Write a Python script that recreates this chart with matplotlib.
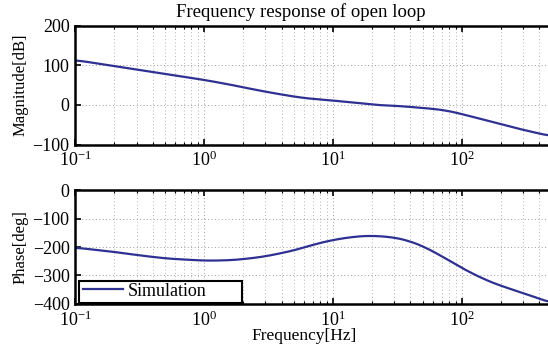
import numpy as np
import matplotlib
matplotlib.use('Agg')
import matplotlib.pyplot as plt
from matplotlib.patches import Rectangle
from matplotlib.ticker import LogLocator, NullFormatter

plt.rcParams['font.family'] = ['Liberation Serif', 'DejaVu Serif']
plt.rcParams['mathtext.fontset'] = 'custom'
plt.rcParams['mathtext.rm'] = 'Liberation Serif'
plt.rcParams['mathtext.it'] = 'Liberation Serif:italic'

# data
freq_mag = [0.1, 0.2, 0.5, 1.0, 1.6, 2.6, 4.0, 6.0, 10.0, 15.0, 23.0, 30.0,
            56.0, 76.0, 100.0, 197.0, 300.0, 464.0, 500.0]
magnitude = [113, 98, 78, 63, 51, 37, 26, 17, 11, 5, -1, -2,
             -9, -14, -23, -48, -63, -77, -79]

freq_ph = [0.1, 0.2, 0.3, 0.5, 1.0, 1.5, 2.0, 3.0, 5.0, 7.0, 10.0, 15.0,
           20.0, 30.0, 40.0, 50.0, 70.0, 100.0, 150.0, 200.0, 300.0, 500.0]
phase = [-202, -217, -228, -240, -248, -247, -243, -233, -212, -192, -175, -163,
         -160, -166, -180, -197, -232, -274, -314, -336, -362, -397]

xticks = [0.1, 1, 10, 100]
xticklabels = ['$10^{-1}$', '$10^{0}$', '$10^{1}$', '$10^{2}$']
mag_ticks = [-100, 0, 100, 200]
ph_ticks = [-400, -300, -200, -100, 0]

line_color = '#2e3192'


def smooth(fx, fy, n=400):
    lx = np.log10(fx)
    xs = np.linspace(lx[0], lx[-1], n)
    ys = np.interp(xs, lx, fy)
    k = 9
    pad = np.pad(ys, k, mode='edge')
    ys = np.convolve(pad, np.ones(2 * k + 1) / (2 * k + 1), mode='same')[k:-k]
    return 10 ** xs, ys


def style_axis(ax, yticks):
    ax.set_xscale('log')
    ax.set_xlim(0.1, 500)
    ax.set_xticks(xticks)
    ax.set_xticklabels(xticklabels)
    ax.xaxis.set_minor_locator(LogLocator(base=10, subs=np.arange(2, 10)))
    ax.xaxis.set_minor_formatter(NullFormatter())
    ax.set_yticks(yticks)
    ax.set_ylim(yticks[0], yticks[-1])
    ax.grid(True, which='major', linestyle=(0, (1, 2.5)), color='#999999', linewidth=0.7)
    ax.grid(True, which='minor', axis='x', linestyle=(0, (1, 2.5)), color='#b5b5b5', linewidth=0.7)
    ax.tick_params(which='both', direction='in', top=True, right=False, labelsize=13)
    ax.tick_params(which='major', length=4, width=1.2, pad=4)
    ax.tick_params(which='minor', length=2, width=0.8)
    ax.tick_params(axis='x', pad=4.5)
    for side in ['left', 'top', 'bottom']:
        ax.spines[side].set_linewidth(1.8)
    ax.spines['right'].set_visible(False)


fig = plt.figure(figsize=(5.48, 3.45), dpi=100)
ax1 = fig.add_axes([0.137, 0.581, 0.87, 0.345])
ax2 = fig.add_axes([0.137, 0.119, 0.87, 0.330])

x, y = smooth(freq_mag, magnitude)
ax1.plot(x, y, color=line_color, linewidth=1.6)
style_axis(ax1, mag_ticks)
ax1.set_ylabel('Magnitude[dB]', fontsize=12, labelpad=3)

x, y = smooth(freq_ph, phase)
ax2.plot(x, y, color=line_color, linewidth=1.6, label='Simulation')
style_axis(ax2, ph_ticks)
ax2.set_ylabel('Phase[deg]', fontsize=12, labelpad=3)
ax2.set_xlabel('Frequency[Hz]', fontsize=12.5, va='center')
ax2.xaxis.set_label_coords((304 - 75) / 477, -0.285)

# legend text + handle, with a MATLAB-like box drawn around it
leg = ax2.legend(loc='lower left', bbox_to_anchor=(0.005, -0.01), fontsize=13,
                 frameon=False, handlelength=2.2, handletextpad=0.3,
                 borderaxespad=0.0, borderpad=0.3)
ax2.add_patch(Rectangle((4 / 477, 0.005), 163 / 477, 22 / 114,
                        transform=ax2.transAxes, fill=True, facecolor='white',
                        edgecolor='black', linewidth=1.5, zorder=4))
leg.set_zorder(5)

fig.text(301 / 548, 1 - 12 / 345, 'Frequency response of open loop',
         fontsize=13.5, ha='center', va='center')

fig.savefig('out.png', dpi=100)
